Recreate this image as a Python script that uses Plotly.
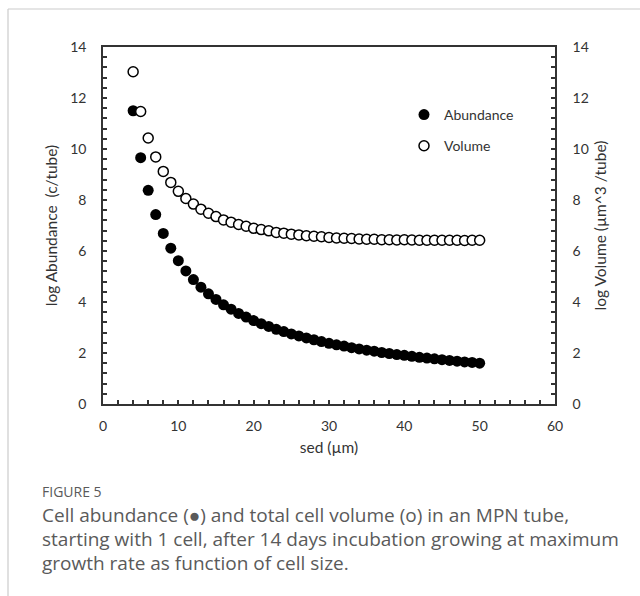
import plotly.graph_objects as go

sed_um = list(range(4, 51))
log_abundance = [11.50, 9.66, 8.38, 7.43, 6.69, 6.11, 5.62, 5.22, 4.88, 4.58,
                 4.32, 4.10, 3.89, 3.72, 3.55, 3.41, 3.27, 3.15, 3.04, 2.93,
                 2.84, 2.75, 2.67, 2.59, 2.52, 2.45, 2.38, 2.32, 2.27, 2.21,
                 2.16, 2.11, 2.07, 2.02, 1.98, 1.94, 1.91, 1.87, 1.83, 1.80,
                 1.77, 1.74, 1.71, 1.68, 1.65, 1.63, 1.60]
log_volume = [13.03, 11.47, 10.43, 9.69, 9.12, 8.69, 8.34, 8.06, 7.84, 7.64,
              7.48, 7.35, 7.22, 7.13, 7.04, 6.97, 6.89, 6.84, 6.79, 6.73,
              6.70, 6.66, 6.63, 6.60, 6.58, 6.56, 6.53, 6.51, 6.50, 6.49,
              6.47, 6.46, 6.46, 6.44, 6.44, 6.43, 6.44, 6.43, 6.42, 6.42,
              6.42, 6.42, 6.42, 6.42, 6.41, 6.42, 6.42]

x_ticks = [0, 10, 20, 30, 40, 50, 60]
y_ticks = [0, 2, 4, 6, 8, 10, 12, 14]

caption_title = "FIGURE 5"
caption_lines = [
    "Cell abundance (\u25cf) and total cell volume (o) in an MPN tube,",
    "starting with 1 cell, after 14 days incubation growing at maximum",
    "growth rate as function of cell size.",
]

W, H = 640, 596
L, R, T, B = 103, 555, 47, 404
pw, ph = R - L, B - T

def px(xp):
    return (xp - L) / pw

def py(yp):
    return (B - yp) / ph

axis_col = "#333333"
txt_col = "#333333"
font_chart = "Lato"

fig = go.Figure()
fig.add_trace(go.Scatter(
    x=sed_um, y=log_abundance, mode="markers", name="Abundance",
    legendgroup="a",
    marker=dict(symbol="circle", size=11, color="black", line=dict(width=0)),
))
fig.add_trace(go.Scatter(
    x=sed_um, y=log_volume, mode="markers", name="Volume", yaxis="y2",
    legendgroup="v",
    marker=dict(symbol="circle", size=10, color="white",
                line=dict(width=1.5, color="black")),
))

tickfont = dict(family=font_chart, size=14, color=txt_col)
titlefont = dict(family=font_chart, size=15.5, color=txt_col)

fig.update_layout(
    width=W, height=H,
    margin=dict(l=L, r=W - R, t=T, b=H - B, autoexpand=False),
    paper_bgcolor="white", plot_bgcolor="white",
    showlegend=True,
    legend=dict(x=px(404), y=py(99), xanchor="left", yanchor="top",
                font=dict(family=font_chart, size=14, color=txt_col),
                bgcolor="rgba(0,0,0,0)", tracegroupgap=10,
                itemsizing="trace"),
    xaxis=dict(
        range=[0, 60], tickvals=x_ticks, ticks="inside", ticklen=4,
        tickwidth=1.5, tickcolor=axis_col, showline=True, linecolor=axis_col,
        linewidth=1.6, mirror=True, showgrid=False, zeroline=False,
        tickfont=tickfont, ticklabelstandoff=8,
        minor=dict(dtick=2, tick0=0, ticks="inside", ticklen=4,
                   tickwidth=1.5, tickcolor=axis_col, showgrid=False),
        title=dict(text="sed (\u00b5m)", font=titlefont, standoff=10),
        automargin=False,
    ),
    yaxis=dict(
        range=[0, 14], tickvals=y_ticks, ticks="inside", ticklen=4,
        tickwidth=1.5, tickcolor=axis_col, showline=True, linecolor=axis_col,
        linewidth=1.6, showgrid=False, zeroline=False,
        tickfont=tickfont, ticklabelstandoff=12,
        minor=dict(dtick=0.4, tick0=0, ticks="inside", ticklen=4,
                   tickwidth=1.5, tickcolor=axis_col, showgrid=False),
        title=dict(text="log Abundance\u00a0 (c/tube)", font=titlefont,
                   standoff=9),
        automargin=False,
    ),
    yaxis2=dict(
        range=[0, 14], tickvals=y_ticks, ticks="inside", ticklen=4,
        tickwidth=1.5, tickcolor=axis_col, showline=True, linecolor=axis_col,
        linewidth=1.6, showgrid=False, zeroline=False, overlaying="y",
        side="right", anchor="x",
        tickfont=tickfont, ticklabelstandoff=13,
        minor=dict(dtick=0.4, tick0=0, ticks="inside", ticklen=4,
                   tickwidth=1.5, tickcolor=axis_col, showgrid=False),
        title=dict(text="log Volume (\u00b5m^3 /tube)", font=titlefont,
                   standoff=7),
        automargin=False,
    ),
)

# outer frame (left and top light lines)
fig.add_shape(type="line", xref="paper", yref="paper",
              x0=px(8), x1=px(8), y0=py(9), y1=py(H + 5),
              line=dict(color="#cccccc", width=1.2))
fig.add_shape(type="line", xref="paper", yref="paper",
              x0=px(8), x1=px(W + 5), y0=py(9), y1=py(9),
              line=dict(color="#cccccc", width=1.2))

cap_col = "#5a5a5a"
fig.add_annotation(text=caption_title, xref="paper", yref="paper",
                   x=px(40), y=py(491), xanchor="left", yanchor="middle",
                   showarrow=False,
                   font=dict(family="Open Sans", size=14, color=cap_col))
for i, line in enumerate(caption_lines):
    fig.add_annotation(text=line, xref="paper", yref="paper",
                       x=px(40), y=py(515 + 24 * i), xanchor="left",
                       yanchor="middle", showarrow=False,
                       font=dict(family="Open Sans", size=19, color=cap_col))

fig.write_html("out.html")
